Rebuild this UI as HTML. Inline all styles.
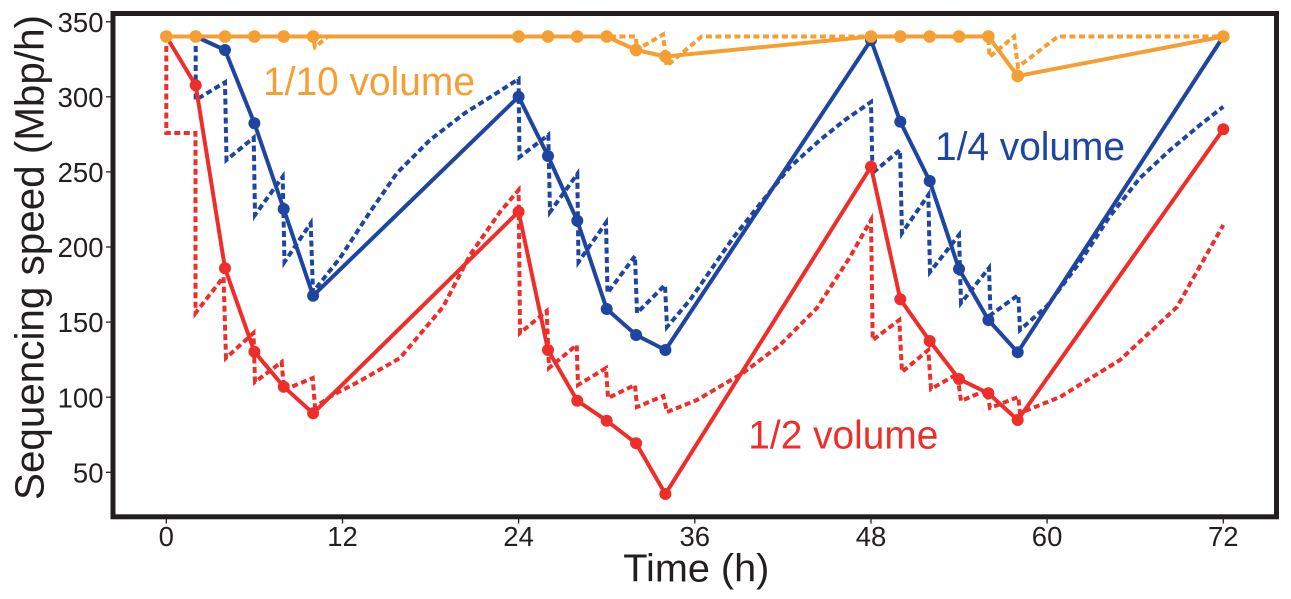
<!DOCTYPE html>
<html>
<head>
<meta charset="utf-8">
<style>
  html,body{margin:0;padding:0;background:#fff;}
  body{width:1291px;height:599px;overflow:hidden;}
  svg{display:block;}
  text{font-family:"Liberation Sans",Arial,sans-serif;}
</style>
</head>
<body>
<svg width="1291" height="599" viewBox="0 0 1291 599" xmlns="http://www.w3.org/2000/svg">
  <rect x="0" y="0" width="1291" height="599" fill="#fff"/>

  <!-- ticks -->
  <g stroke="#231F20" stroke-width="1.3">
    <line x1="166.3" y1="519" x2="166.3" y2="523.5"/>
    <line x1="342.5" y1="519" x2="342.5" y2="523.5"/>
    <line x1="518.6" y1="519" x2="518.6" y2="523.5"/>
    <line x1="694.8" y1="519" x2="694.8" y2="523.5"/>
    <line x1="871.0" y1="519" x2="871.0" y2="523.5"/>
    <line x1="1047.1" y1="519" x2="1047.1" y2="523.5"/>
    <line x1="1223.3" y1="519" x2="1223.3" y2="523.5"/>
    <line x1="106" y1="21.7" x2="111" y2="21.7"/>
    <line x1="106" y1="96.8" x2="111" y2="96.8"/>
    <line x1="106" y1="171.9" x2="111" y2="171.9"/>
    <line x1="106" y1="247" x2="111" y2="247"/>
    <line x1="106" y1="322.1" x2="111" y2="322.1"/>
    <line x1="106" y1="397.2" x2="111" y2="397.2"/>
    <line x1="106" y1="472.3" x2="111" y2="472.3"/>
  </g>

  <!-- tick labels -->
  <g fill="#231F20" font-size="27.5" text-anchor="middle">
    <text x="166.3" y="546">0</text>
    <text x="342.5" y="546">12</text>
    <text x="518.6" y="546">24</text>
    <text x="694.8" y="546">36</text>
    <text x="871.0" y="546">48</text>
    <text x="1047.1" y="546">60</text>
    <text x="1223.3" y="546">72</text>
  </g>
  <g fill="#231F20" font-size="27.5" text-anchor="end">
    <text x="103.5" y="32">350</text>
    <text x="103.5" y="107">300</text>
    <text x="103.5" y="182">250</text>
    <text x="103.5" y="257">200</text>
    <text x="103.5" y="332">150</text>
    <text x="103.5" y="407.5">100</text>
    <text x="103.5" y="482.5">50</text>
  </g>

  <!-- axis titles -->
  <text x="623.3" y="581.7" font-size="39" fill="#231F20" textLength="146" lengthAdjust="spacingAndGlyphs">Time (h)</text>
  <text transform="translate(43.5,500) rotate(-90)" x="0" y="0" font-size="41" fill="#231F20" textLength="485" lengthAdjust="spacingAndGlyphs">Sequencing speed (Mbp/h)</text>

  <!-- series -->
  <g fill="none" stroke-width="4" stroke-linejoin="round">
    <!-- blue dashed -->
    <polyline stroke="#1E45A0" stroke-dasharray="6,3.5" stroke-linejoin="miter"
      points="195.7,36.5 195.7,100 225,82.3 226.5,160 253.7,137.7 255,215 282.7,176.7 284.5,262 310.7,223.3 313,292 340,258 370,212 397,173 430,140 465,113 500,91 518.6,79 519.5,157 548.3,135 550,212 577.3,174 578.5,262 606,222.7 607.5,293 635,256 637,313 665,285 667,327 690,300 733,238 760,204 790,167 820,140 845,120 871,102 872.5,173 900,150 902,233 928.3,195 930,272 959,235 961,303 989,268 990.5,315 1018.3,295 1020,330 1047,306 1080,262 1110,216 1140,178 1170,150 1200,125 1223.3,106.7"/>
    <!-- red dashed -->
    <polyline stroke="#EE2E2B" stroke-dasharray="6,3.5" stroke-linejoin="miter"
      points="166.3,36.5 166.3,133 195.5,133 195.5,313 223.5,277 226,358 253.5,333 255,382 281.7,362 284,390 312.7,378 315,407 333,395 360,381 400,358 443,307 470,255 500,212 518.6,190 520,333 546.7,311 549,368 576.7,345 578,385 606,368 608,398 635,385 637,407 663.3,396 667,412 697,400 743,373 780,345 817,308 850,257 871,220 872.7,340 899.3,320 902,372 928.3,350 931,389 957.3,374 961,401 986.7,390 990,408 1018.3,397 1020,413 1060,397 1120,360 1177,307 1208,252 1223.3,225"/>
    <!-- blue solid -->
    <polyline stroke="#1E45A0"
      points="166.3,36.5 195.7,36.5 225,50 254.4,123.3 283.7,209 313.1,295.7 518.6,96.7 548,156 577.3,220.7 606.7,309 636.1,335 665.4,350 871,40 900.3,121.7 929.7,181 959,269 988.4,320 1017.7,352.3 1223.3,36.5"/>
    <!-- red solid -->
    <polyline stroke="#EE2E2B"
      points="166.3,36.5 195.7,85.3 225,268.3 254.4,351.7 283.7,386.7 313.1,413.3 518.6,211.7 548,350 577.3,400.7 606.7,420.7 636.1,443.3 665.4,494 871,166.7 900.3,299.3 929.7,341 959,379 988.4,393.3 1017.7,420 1223.3,129.3"/>
    <!-- orange dashed -->
    <polyline stroke="#F59F33" stroke-dasharray="6,3.5" stroke-linejoin="miter"
      points="166.3,36.5 313,36.5 315,47 328,36.5 636,36.5 636.5,50 663,34.5 666.7,66 701.7,36.5 988.4,36.5 989.5,57 1014,36.5 1018,67 1058,36.5 1223.3,36.5"/>
    <!-- orange solid -->
    <polyline stroke="#F59F33"
      points="166.3,36.5 313.1,36.5 518.6,36.5 548,36.5 577.3,36.5 606.7,36.5 636.1,50 665.4,56.5 871,36.5 900.3,36.5 929.7,36.5 959,36.5 988.4,36.5 1017.7,76 1223.3,36.5"/>
  </g>

  <!-- dots -->
  <g fill="#1E45A0">
    <circle cx="225" cy="50" r="6"/>
    <circle cx="254.4" cy="123.3" r="6"/>
    <circle cx="283.7" cy="209" r="6"/>
    <circle cx="313.1" cy="295.7" r="6"/>
    <circle cx="518.6" cy="96.7" r="6"/>
    <circle cx="548" cy="156" r="6"/>
    <circle cx="577.3" cy="220.7" r="6"/>
    <circle cx="606.7" cy="309" r="6"/>
    <circle cx="636.1" cy="335" r="6"/>
    <circle cx="665.4" cy="350" r="6"/>
    <circle cx="871" cy="40" r="6"/>
    <circle cx="900.3" cy="121.7" r="6"/>
    <circle cx="929.7" cy="181" r="6"/>
    <circle cx="959" cy="269" r="6"/>
    <circle cx="988.4" cy="320" r="6"/>
    <circle cx="1017.7" cy="352.3" r="6"/>
  </g>
  <g fill="#EE2E2B">
    <circle cx="195.7" cy="85.3" r="6"/>
    <circle cx="225" cy="268.3" r="6"/>
    <circle cx="254.4" cy="351.7" r="6"/>
    <circle cx="283.7" cy="386.7" r="6"/>
    <circle cx="313.1" cy="413.3" r="6"/>
    <circle cx="518.6" cy="211.7" r="6"/>
    <circle cx="548" cy="350" r="6"/>
    <circle cx="577.3" cy="400.7" r="6"/>
    <circle cx="606.7" cy="420.7" r="6"/>
    <circle cx="636.1" cy="443.3" r="6"/>
    <circle cx="665.4" cy="494" r="6"/>
    <circle cx="871" cy="166.7" r="6"/>
    <circle cx="900.3" cy="299.3" r="6"/>
    <circle cx="929.7" cy="341" r="6"/>
    <circle cx="959" cy="379" r="6"/>
    <circle cx="988.4" cy="393.3" r="6"/>
    <circle cx="1017.7" cy="420" r="6"/>
    <circle cx="1223.3" cy="129.3" r="6"/>
  </g>
  <g fill="#F59F33">
    <circle cx="166.3" cy="36.5" r="6.3"/>
    <circle cx="195.7" cy="36.5" r="6.3"/>
    <circle cx="225" cy="36.5" r="6.3"/>
    <circle cx="254.4" cy="36.5" r="6.3"/>
    <circle cx="283.7" cy="36.5" r="6.3"/>
    <circle cx="313.1" cy="36.5" r="6.3"/>
    <circle cx="518.6" cy="36.5" r="6.3"/>
    <circle cx="548" cy="36.5" r="6.3"/>
    <circle cx="577.3" cy="36.5" r="6.3"/>
    <circle cx="606.7" cy="36.5" r="6.3"/>
    <circle cx="636.1" cy="50" r="6.3"/>
    <circle cx="665.4" cy="56.5" r="6.3"/>
    <circle cx="871" cy="36.5" r="6.3"/>
    <circle cx="900.3" cy="36.5" r="6.3"/>
    <circle cx="929.7" cy="36.5" r="6.3"/>
    <circle cx="959" cy="36.5" r="6.3"/>
    <circle cx="988.4" cy="36.5" r="6.3"/>
    <circle cx="1017.7" cy="76" r="6.3"/>
    <circle cx="1223.3" cy="36.5" r="6.3"/>
  </g>

  <!-- series labels -->
  <text x="263" y="95" font-size="40" fill="#F59F33" textLength="212" lengthAdjust="spacingAndGlyphs">1/10 volume</text>
  <text x="935" y="160" font-size="40" fill="#1E45A0" textLength="190" lengthAdjust="spacingAndGlyphs">1/4 volume</text>
  <text x="748.3" y="448.3" font-size="40" fill="#EE2E2B" textLength="190" lengthAdjust="spacingAndGlyphs">1/2 volume</text>

  <!-- frame -->
  <rect x="113" y="13.5" width="1163.5" height="503.3" fill="none" stroke="#231F20" stroke-width="5"/>
</svg>
</body>
</html>
